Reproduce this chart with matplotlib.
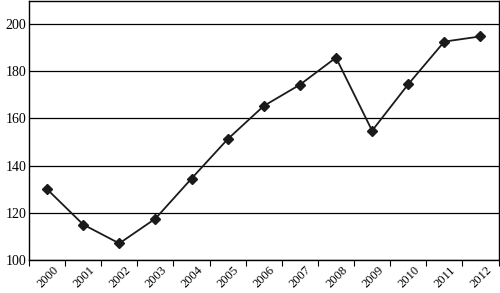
import numpy as np
import matplotlib.pyplot as plt

years = ['2000', '2001', '2002', '2003', '2004', '2005', '2006',
         '2007', '2008', '2009', '2010', '2011', '2012']
values = [130, 115, 107, 117.5, 134.5, 151.2, 165.3, 174.3, 185.8, 154.8, 174.5, 192.6, 194.8]
y_ticks = [100, 120, 140, 160, 180, 200]

plt.rcParams['font.family'] = ['Liberation Serif', 'DejaVu Serif']

fig = plt.figure(figsize=(5, 2.93), dpi=100)
ax = fig.add_axes([0.058, 0.113, 0.939, 0.885])

x = np.arange(len(years))
ax.plot(x, values, color='#1a1a1a', linewidth=1.3, marker='D', markersize=5, zorder=3)

ax.set_ylim(100, 210)
ax.set_yticks(y_ticks)
ax.yaxis.grid(True, color='black', linewidth=0.9)
ax.set_axisbelow(True)
ax.tick_params(axis='y', length=0, labelsize=10, pad=2)

ax.set_xlim(-0.5, len(years) - 0.5)
ax.set_xticks(np.arange(len(years) + 1) - 0.5)
ax.set_xticklabels([])
ax.set_xticks(x + 0.15, minor=True)
ax.set_xticklabels(years, minor=True, rotation=45, ha='right', va='top',
                   rotation_mode='anchor', fontsize=9)
ax.tick_params(axis='x', which='major', length=4, direction='out', color='black')
ax.tick_params(axis='x', which='minor', length=0, pad=3)

for s in ax.spines.values():
    s.set_color('black')
    s.set_linewidth(1)

fig.savefig('out.png', dpi=100)
